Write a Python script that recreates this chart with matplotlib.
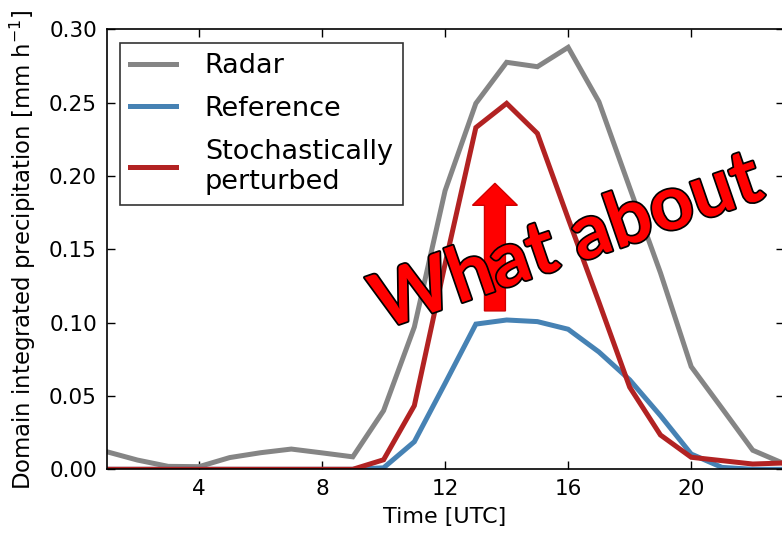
import matplotlib
matplotlib.use("Agg")
import matplotlib.pyplot as plt
import matplotlib.patheffects as pe
from matplotlib.patches import FancyArrow

hours = list(range(1, 24))
radar = [0.012, 0.0063, 0.002, 0.0018, 0.008, 0.0113, 0.0138, 0.0112, 0.0085,
         0.040, 0.097, 0.19, 0.2495, 0.2775, 0.2745, 0.2877, 0.2506, 0.192,
         0.134, 0.070, 0.0416, 0.013, 0.004]
reference = [0, 0, 0, 0, 0, 0, 0, 0, 0, 0.001, 0.0188, 0.0586, 0.099, 0.1018,
             0.1007, 0.0955, 0.080, 0.061, 0.0366, 0.0104, 0.0013, 0.0, 0.0]
stochastic = [0, 0, 0, 0, 0, 0, 0, 0, 0, 0.0065, 0.0434, 0.14, 0.233, 0.2495,
              0.229, 0.171, 0.114, 0.056, 0.0234, 0.0082, 0.0059, 0.0036, 0.0043]
labels = ["Radar", "Reference", "Stochastically\nperturbed"]
colors = ["#858585", "#4682b4", "#b22222"]
xticks = [4, 8, 12, 16, 20]
yticks = [0.00, 0.05, 0.10, 0.15, 0.20, 0.25, 0.30]

W, H = 782, 535
fig = plt.figure(figsize=(W / 100, H / 100), dpi=100)
left, right, top, bottom = 106.7, 783.5, 29.3, 469.3
ax = fig.add_axes([left / W, (H - bottom) / H, (right - left) / W, (bottom - top) / H])

for series, lab, col in zip([radar, reference, stochastic], labels, colors):
    ax.plot(hours, series, color=col, lw=3.6, label=lab, solid_joinstyle="miter")

ax.set_xlim(1, 23)
ax.set_ylim(0, 0.30)
ax.set_xticks(xticks)
ax.set_yticks(yticks)
ax.set_yticklabels([f"{v:.2f}" for v in yticks])
ax.tick_params(direction="in", top=True, right=True, length=5.5, width=1,
               labelsize=15.5, pad=7)
for s in ax.spines.values():
    s.set_linewidth(1.2)

ax.set_xlabel("Time [UTC]", fontsize=16)
ax.xaxis.set_label_coords(0.5, -0.085)
ax.set_ylabel(r"Domain integrated precipitation [mm h$^{-1}$]", fontsize=16.4)
ax.yaxis.set_label_coords(-0.102, 0.5)

leg = ax.legend(loc="upper left", bbox_to_anchor=(0.0197, 0.9695), borderaxespad=0,
                fontsize=19.5, fancybox=False, edgecolor="black", handlelength=1.7,
                handletextpad=1.05, labelspacing=0.62, borderpad=0.38)
leg.get_frame().set_linewidth(1.2)

# annotation arrow
arr = FancyArrow(13.62, 0.108, 0, 0.087, width=0.68, head_width=1.46,
                 head_length=0.015, length_includes_head=True,
                 facecolor="#ff0000", edgecolor="#d00000", lw=1, zorder=5)
ax.add_patch(arr)

ax.text(567, H - 243, "What about", transform=None, fontsize=55, fontweight="bold",
        family="Lato", color="#ff0000", rotation=19, ha="center", va="center",
        rotation_mode="anchor", zorder=6,
        path_effects=[pe.withStroke(linewidth=2.5, foreground="black")])

fig.savefig("out.png", dpi=100)
